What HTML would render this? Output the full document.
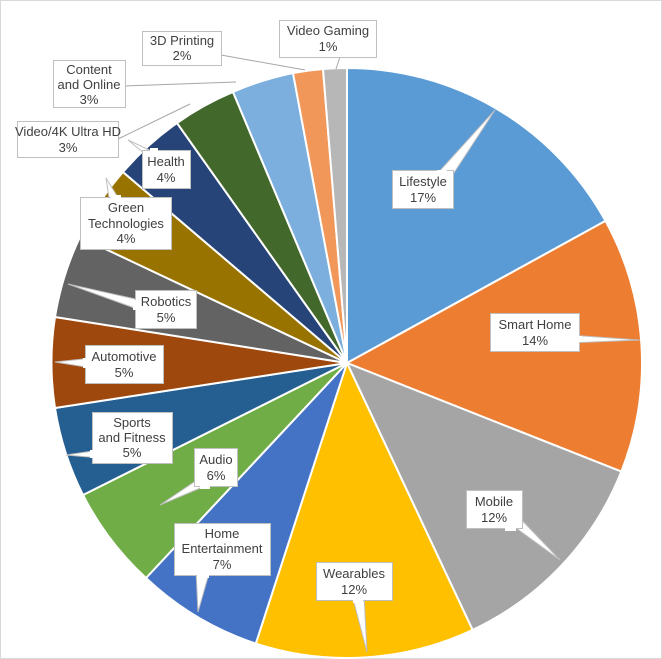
<!DOCTYPE html>
<html><head><meta charset="utf-8"><style>
html,body{margin:0;padding:0;background:#fff;}
svg{display:block;font-family:"Liberation Sans",Arial,sans-serif;}
text{font-size:13px;fill:#404040;text-anchor:middle;}
</style></head><body>
<svg width="662" height="659" viewBox="0 0 662 659">
<rect x="0.5" y="0.5" width="661" height="658" fill="#fff" stroke="#d9d9d9"/>
<g stroke="#fff" stroke-width="2" stroke-linejoin="round">
<path d="M347,363 L347,68 A295,295 0 0 1 605.5,220.9Z" fill="#5B9BD5"/>
<path d="M347,363 L605.5,220.9 A295,295 0 0 1 621.3,471.6Z" fill="#ED7D31"/>
<path d="M347,363 L621.3,471.6 A295,295 0 0 1 472.6,629.9Z" fill="#A5A5A5"/>
<path d="M347,363 L472.6,629.9 A295,295 0 0 1 255.8,643.6Z" fill="#FFC000"/>
<path d="M347,363 L255.8,643.6 A295,295 0 0 1 146,578Z" fill="#4472C4"/>
<path d="M347,363 L146,578 A295,295 0 0 1 83,495Z" fill="#70AD47"/>
<path d="M347,363 L83,495 A295,295 0 0 1 55,408Z" fill="#255E91"/>
<path d="M347,363 L55,408 A295,295 0 0 1 55,317Z" fill="#9E480E"/>
<path d="M347,363 L55,317 A295,295 0 0 1 80,237Z" fill="#636363"/>
<path d="M347,363 L80,237 A295,295 0 0 1 123,172Z" fill="#997300"/>
<path d="M347,363 L123,172 A295,295 0 0 1 177,123Z" fill="#264478"/>
<path d="M347,363 L177,123 A295,295 0 0 1 233,92Z" fill="#43682B"/>
<path d="M347,363 L233,92 A295,295 0 0 1 293,73Z" fill="#7CAFDD"/>
<path d="M347,363 L293,73 A295,295 0 0 1 323,69Z" fill="#F1975A"/>
<path d="M347,363 L323,69 A295,295 0 0 1 347,68Z" fill="#B7B7B7"/>
</g>
<g stroke="#a6a6a6" stroke-width="1" fill="none">
<path d="M118,139 L190,104"/>
<path d="M125,86 L236,82"/>
<path d="M221,55 L305,70"/>
<path d="M340,57 L336,69"/>
</g>
<g fill="#fff" stroke="#bfbfbf" stroke-width="1">
<polygon points="436,175 448,182 495,110"/>
<polygon points="570,335 570,343 640,340"/>
<polygon points="505,520 514,512 560,560"/>
<polygon points="352,595 364,595 367,652"/>
<polygon points="196,570 210,570 198,612"/>
<polygon points="200,478 210,484 160,505"/>
<polygon points="100,450 100,458 66,455"/>
<polygon points="92,358 92,368 55,362"/>
<polygon points="140,300 140,310 68,284"/>
<polygon points="110,204 122,204 106,178"/>
<polygon points="150,158 158,154 128,140"/>
</g>
<g fill="#fff" stroke="#bfbfbf" stroke-width="1">
<rect x="392.5" y="170.5" width="61" height="38"/>
<rect x="490.5" y="313.5" width="89" height="38"/>
<rect x="466.5" y="490.5" width="56" height="38"/>
<rect x="316.5" y="562.5" width="76" height="38"/>
<rect x="174.5" y="523.5" width="96" height="52"/>
<rect x="194.5" y="448.5" width="43" height="38"/>
<rect x="92.5" y="412.5" width="80" height="51"/>
<rect x="85.5" y="345.5" width="78" height="38"/>
<rect x="135.5" y="290.5" width="61" height="38"/>
<rect x="80.5" y="197.5" width="91" height="52"/>
<rect x="142.5" y="150.5" width="48" height="38"/>
<rect x="17.5" y="121.5" width="101" height="36"/>
<rect x="53.5" y="60.5" width="72" height="47"/>
<rect x="142.5" y="31.5" width="79" height="34"/>
<rect x="279.5" y="20.5" width="97" height="37"/>
</g>
<g fill="#fff" stroke="none">
<polygon points="437,170 447,170 445,176 439,176"/>
<polygon points="578,336 582,336 582,342 578,342"/>
<polygon points="505,527 516,527 516,531 505,531"/>
<polygon points="353,599 363,599 363,603 353,603"/>
<polygon points="197,574 209,574 209,578 197,578"/>
<polygon points="200,485 210,485 210,489 200,489"/>
<polygon points="90,450 94,450 94,458 90,458"/>
<polygon points="83,358 87,358 87,368 83,368"/>
<polygon points="133,300 137,300 137,310 133,310"/>
<polygon points="111,195 121,195 121,199 111,199"/>
<polygon points="150,148 158,148 158,152 150,152"/>
</g>
<g>
<text x="423" y="186">Lifestyle</text><text x="423" y="202">17%</text>
<text x="535" y="329">Smart Home</text><text x="535" y="345">14%</text>
<text x="494" y="506">Mobile</text><text x="494" y="522">12%</text>
<text x="354" y="578">Wearables</text><text x="354" y="594">12%</text>
<text x="222" y="538">Home</text><text x="222" y="553">Entertainment</text><text x="222" y="569">7%</text>
<text x="216" y="464">Audio</text><text x="216" y="480">6%</text>
<text x="132" y="427">Sports</text><text x="132" y="442">and Fitness</text><text x="132" y="457">5%</text>
<text x="124" y="361">Automotive</text><text x="124" y="377">5%</text>
<text x="166" y="306">Robotics</text><text x="166" y="322">5%</text>
<text x="126" y="212">Green</text><text x="126" y="228">Technologies</text><text x="126" y="243">4%</text>
<text x="166" y="166">Health</text><text x="166" y="182">4%</text>
<text x="68" y="136">Video/4K Ultra HD</text><text x="68" y="152">3%</text>
<text x="89" y="74">Content</text><text x="89" y="89">and Online</text><text x="89" y="104">3%</text>
<text x="182" y="45">3D Printing</text><text x="182" y="60">2%</text>
<text x="328" y="35">Video Gaming</text><text x="328" y="51">1%</text>
</g>
</svg>
</body></html>
